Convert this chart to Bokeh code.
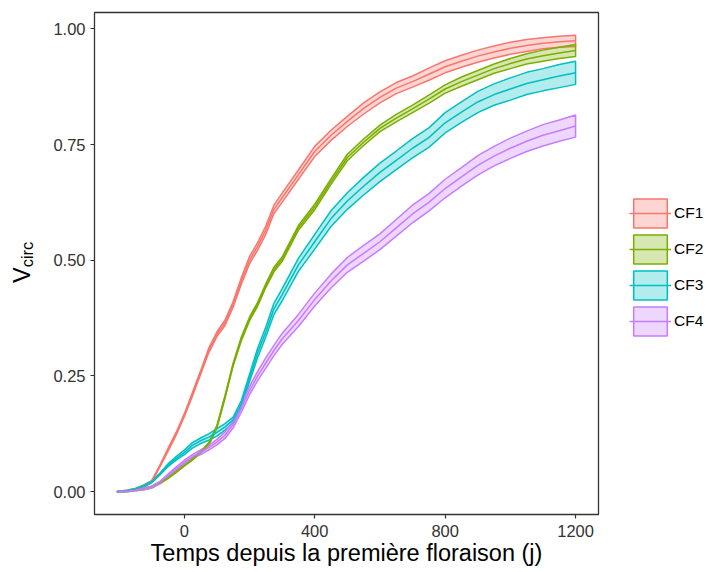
from bokeh.plotting import figure
from bokeh.layouts import row
from bokeh.models import (Range1d, FixedTicker, NumeralTickFormatter, Legend,
                          LegendItem, Div)
from bokeh.embed import file_html
from bokeh.resources import INLINE

# ---- data ----
days = [-205, -175, -150, -125, -100, -75, -50, -25, 0, 25, 50, 75, 100, 125, 150,
        175, 200, 225, 250, 275, 300, 350, 400, 450, 500, 550, 600, 650, 700, 750,
        800, 850, 900, 950, 1000, 1050, 1100, 1150, 1200]

cf1_mid = [0.000, 0.002, 0.006, 0.012, 0.022, 0.055, 0.090, 0.125, 0.165, 0.210, 0.257,
           0.305, 0.340, 0.365, 0.405, 0.455, 0.500, 0.530, 0.565, 0.610, 0.635, 0.685,
           0.735, 0.770, 0.800, 0.828, 0.852, 0.872, 0.886, 0.902, 0.918, 0.930, 0.941,
           0.950, 0.958, 0.964, 0.969, 0.972, 0.974]
cf1_hw = [0.001, 0.001, 0.001, 0.002, 0.002, 0.002, 0.003, 0.003, 0.003, 0.004, 0.004,
          0.005, 0.005, 0.006, 0.006, 0.007, 0.008, 0.008, 0.009, 0.009, 0.010, 0.010,
          0.011, 0.011, 0.011, 0.012, 0.012, 0.012, 0.012, 0.013, 0.013, 0.013, 0.013,
          0.013, 0.013, 0.013, 0.012, 0.012, 0.012]

cf2_mid = [0.000, 0.001, 0.003, 0.006, 0.010, 0.019, 0.030, 0.043, 0.057, 0.070, 0.085,
           0.103, 0.140, 0.205, 0.275, 0.330, 0.373, 0.405, 0.445, 0.480, 0.502, 0.570,
           0.615, 0.670, 0.722, 0.755, 0.785, 0.807, 0.827, 0.848, 0.870, 0.886, 0.900,
           0.914, 0.925, 0.935, 0.942, 0.948, 0.953]
cf2_hw = [0.001, 0.001, 0.001, 0.002, 0.002, 0.002, 0.002, 0.002, 0.002, 0.002, 0.002,
          0.003, 0.003, 0.003, 0.003, 0.004, 0.004, 0.004, 0.004, 0.005, 0.005, 0.005,
          0.006, 0.006, 0.007, 0.007, 0.007, 0.008, 0.008, 0.009, 0.009, 0.010, 0.010,
          0.010, 0.011, 0.011, 0.012, 0.012, 0.013]

cf3_mid = [0.000, 0.002, 0.006, 0.012, 0.021, 0.038, 0.057, 0.072, 0.085, 0.100, 0.110,
           0.118, 0.128, 0.140, 0.155, 0.190, 0.245, 0.300, 0.345, 0.395, 0.425, 0.490,
           0.540, 0.590, 0.628, 0.660, 0.690, 0.716, 0.742, 0.765, 0.797, 0.820, 0.842,
           0.858, 0.870, 0.882, 0.890, 0.898, 0.905]
cf3_hw = [0.001, 0.001, 0.001, 0.002, 0.002, 0.002, 0.003, 0.004, 0.005, 0.006, 0.006,
          0.007, 0.008, 0.007, 0.006, 0.007, 0.008, 0.010, 0.011, 0.012, 0.013, 0.014,
          0.016, 0.017, 0.018, 0.019, 0.020, 0.020, 0.021, 0.021, 0.022, 0.022, 0.023,
          0.023, 0.024, 0.024, 0.024, 0.025, 0.025]

cf4_mid = [0.000, 0.001, 0.003, 0.006, 0.010, 0.020, 0.035, 0.050, 0.064, 0.076, 0.085,
           0.095, 0.107, 0.122, 0.145, 0.180, 0.218, 0.250, 0.278, 0.305, 0.330, 0.370,
           0.415, 0.455, 0.490, 0.515, 0.540, 0.570, 0.600, 0.625, 0.655, 0.680, 0.705,
           0.725, 0.742, 0.757, 0.770, 0.780, 0.790]
cf4_hw = [0.001, 0.001, 0.001, 0.002, 0.002, 0.002, 0.003, 0.003, 0.004, 0.004, 0.005,
          0.005, 0.006, 0.007, 0.007, 0.008, 0.009, 0.010, 0.011, 0.011, 0.012, 0.013,
          0.014, 0.015, 0.016, 0.017, 0.017, 0.018, 0.019, 0.019, 0.020, 0.020, 0.021,
          0.021, 0.022, 0.022, 0.023, 0.023, 0.024]

series_names = ["CF1", "CF2", "CF3", "CF4"]
series_mid = [cf1_mid, cf2_mid, cf3_mid, cf4_mid]
series_hw = [cf1_hw, cf2_hw, cf3_hw, cf4_hw]
colors = ["#F8766D", "#7CAE00", "#00BFC4", "#C77CFF"]

x_ticks = [0, 400, 800, 1200]
y_ticks = [0.0, 0.25, 0.5, 0.75, 1.0]

x_title = "Temps depuis la première floraison (j)"
y_title_main = "V"
y_title_sub = "circ"

# ---- ranges with ggplot-style 5% expansion ----
all_hi = [m + h for mid, hw in zip(series_mid, series_hw) for m, h in zip(mid, hw)]
xmin, xmax = min(days), max(days)
ymin, ymax = 0.0, max(all_hi)
dx, dy = (xmax - xmin) * 0.05, (ymax - ymin) * 0.05

FONT = "Liberation Sans"

p = figure(frame_width=504, frame_height=502, output_backend="svg",
           toolbar_location=None,
           x_range=Range1d(xmin - dx, xmax + dx), y_range=Range1d(ymin - dy, ymax + dy),
           min_border_left=54, min_border_right=108, min_border_top=12,
           min_border_bottom=50, background_fill_color="white",
           border_fill_color="white")
p.xgrid.visible = False
p.ygrid.visible = False
p.outline_line_color = "#333333"
p.outline_line_width = 1.3

for ax in (p.xaxis[0], p.yaxis[0]):
    ax.axis_line_color = None
    ax.major_tick_line_color = "#333333"
    ax.major_tick_line_width = 1.2
    ax.major_tick_in = 0
    ax.major_tick_out = 4
    ax.minor_tick_line_color = None
    ax.major_label_text_font = FONT
    ax.major_label_text_font_size = "16.5px"
    ax.major_label_text_color = "#333333"

p.xaxis.ticker = FixedTicker(ticks=x_ticks)
p.yaxis.ticker = FixedTicker(ticks=y_ticks)
p.yaxis.formatter = NumeralTickFormatter(format="0.00")
p.xaxis.major_label_standoff = 6
p.yaxis.major_label_standoff = 5

p.xaxis.axis_label = x_title
p.xaxis.axis_label_text_font = FONT
p.xaxis.axis_label_text_font_size = "23.5px"
p.xaxis.axis_label_text_font_style = "normal"
p.xaxis.axis_label_text_color = "black"
p.xaxis.axis_label_standoff = 0

# ---- ribbons then centre lines ----
patches = []
for name, mid, hw, col in zip(series_names, series_mid, series_hw, colors):
    lo = [m - h for m, h in zip(mid, hw)]
    hi = [m + h for m, h in zip(mid, hw)]
    r = p.patch(days + days[::-1], hi + lo[::-1], fill_color=col, fill_alpha=0.3,
                line_color=col, line_width=1.5)
    patches.append(r)

lines = []
for name, mid, col in zip(series_names, series_mid, colors):
    lines.append(p.line(days, mid, line_color=col, line_width=1.5))

items = [LegendItem(label=n, renderers=[pa, li])
         for n, pa, li in zip(series_names, patches, lines)]
legend = Legend(items=items, location=(31, 175), padding=0, margin=16,
                border_line_color=None, background_fill_alpha=0,
                glyph_width=42, glyph_height=36, spacing=0, label_standoff=3,
                label_text_font=FONT, label_text_font_size="15.5px",
                label_text_color="black")
p.add_layout(legend, "right")

# ---- y-axis title V_circ as real (HTML) text ----
ytitle = Div(width=40, height=570, margin=0, text=(
    '<div style="position:relative;width:40px;height:570px;">'
    '<div style="position:absolute;left:11px;top:283px;transform-origin:0 0;'
    'transform:rotate(-90deg);white-space:nowrap;font-family:\'Liberation Sans\';'
    'font-size:23.5px;line-height:1;color:black;">'
    + y_title_main +
    '<span style="font-size:16.5px;position:relative;top:3px;">'
    + y_title_sub + '</span></div></div>'))

layout = row(ytitle, p, spacing=0)
open("out.html", "w").write(file_html(layout, INLINE))
